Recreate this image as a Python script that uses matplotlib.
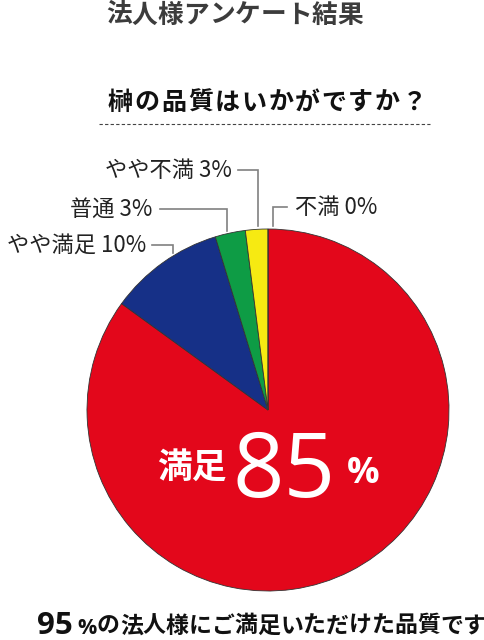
import numpy as np
import matplotlib
matplotlib.use("Agg")
import matplotlib.pyplot as plt

plt.rcParams['font.family'] = ['Noto Sans CJK JP', 'DejaVu Sans']

# survey data (clockwise from top); slice sizes as drawn, labels as printed
categories = ["満足", "やや満足", "普通", "やや不満", "不満"]
shares     = [85, 10.3, 2.7, 2.0, 0]
colors     = ["#e3071b", "#163087", "#0e9c45", "#f6ea12", "#e3071b"]
label_text = ["やや満足 10%", "普通 3%", "やや不満 3%", "不満 0%"]

W, H = 485, 640
CX, CY, R = 268, 410, 181
LATIN = ["Open Sans", "DejaVu Sans"]


def Y(y):
    # pixel row (top origin) -> data y
    return H - y


def spaced(ax, text, x0, yc, pitch, **kw):
    for i, ch in enumerate(text):
        ax.text(x0 + pitch * (i + 0.5), Y(yc), ch, ha="center", va="center", **kw)


fig = plt.figure(figsize=(W / 100, H / 100), dpi=100)
ax = fig.add_axes([0, 0, 1, 1])

wedges, _ = ax.pie(shares, colors=colors, startangle=90, counterclock=False,
                   center=(CX, Y(CY)), radius=R,
                   wedgeprops=dict(edgecolor="#333333", linewidth=0.6))
ax.set_xlim(0, W)
ax.set_ylim(0, H)
ax.set_aspect("equal")
ax.axis("off")

# titles
spaced(ax, "法人様アンケート結果", 106, 15, 25.7, fontsize=18.5,
       fontweight="bold", color="#3c3c3c")
spaced(ax, "榊の品質はいかがですか？", 107, 103, 26.7, fontsize=18,
       fontweight="bold", color="#111111")
ax.plot([99, 430], [Y(124), Y(124)], color="#444444", lw=0.8,
        linestyle=(0, (3, 2)))

# leader lines: x from wedge mid-angle, label placed left/right
gray = "#808080"
layout = [  # (wedge index, label row, label end x, elbow gap, x nudge)
    (1, 245, 146, 6, 10),
    (2, 209, 152, 8, -3),
    (3, 170, 232, 6, 1.5),
]
for idx, ly, tx, gap, nudge in layout:
    w = wedges[idx]
    mid = np.deg2rad((w.theta1 + w.theta2) / 2)
    ex = CX + R * np.cos(mid) + nudge
    ey = CY - np.sqrt(R ** 2 - (ex - CX) ** 2) - 3
    ax.plot([tx + gap, ex, ex], [Y(ly), Y(ly), Y(ey)], color=gray, lw=1.2,
            solid_joinstyle="miter")
    ax.text(tx, Y(ly), label_text[idx - 1], ha="right", va="center",
            fontsize=16, color="#222222")

w = wedges[4]
ex = CX + R * np.cos(np.deg2rad(w.theta1)) + 5
ey = CY - np.sqrt(R ** 2 - (ex - CX) ** 2) - 3
ax.plot([ex, ex, ex + 14], [Y(ey), Y(207), Y(207)], color=gray, lw=1.2,
        solid_joinstyle="miter")
ax.text(295, Y(207), label_text[3], ha="left", va="center",
        fontsize=16, color="#222222")

# center label
ax.text(192, Y(467), categories[0], ha="center", va="center", fontsize=25,
        fontweight="bold", color="white")
ax.text(284, Y(497), f"{shares[0]}", ha="center", va="baseline", fontsize=65,
        color="white", family=LATIN)
ax.text(363, Y(483), "%", ha="center", va="baseline", fontsize=26,
        fontweight="bold", color="white", family=LATIN)

# footer
ax.text(37, Y(634), "95", ha="left", va="baseline", fontsize=22.5,
        fontweight="bold", color="#111111", family=LATIN)
ax.text(77, Y(634), "%", ha="left", va="baseline", fontsize=15.5,
        fontweight="bold", color="#111111", family=LATIN)
spaced(ax, "の法人様にご満足いただけた品質です", 97, 626, 22.9, fontsize=16.5,
       fontweight="bold", color="#111111")

fig.savefig("out.png", dpi=100)
